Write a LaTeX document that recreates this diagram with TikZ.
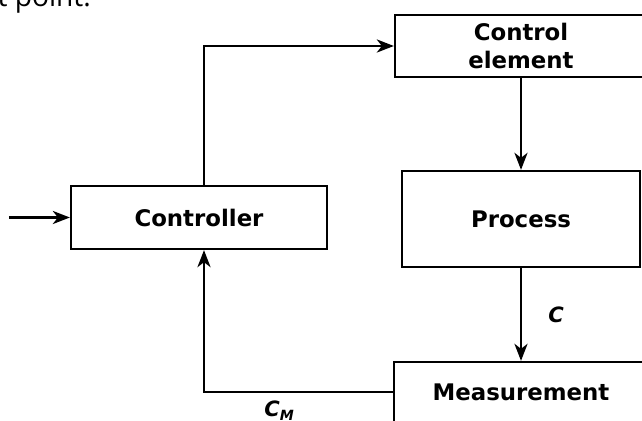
\documentclass[tikz,border=0pt]{standalone}
\usepackage{fontspec}
\setmainfont{DejaVu Sans}
\newfontfamily\notefont{Open Sans}
\usetikzlibrary{arrows.meta}

\begin{document}
\begin{tikzpicture}[x=0.02cm,y=-0.02cm,
	block/.style={draw,line width=1.3pt,inner sep=0pt,align=center,
		font=\bfseries\fontsize{13}{16}\selectfont},
	flow/.style={line width=1.6pt,-{Stealth[length=0.34cm,width=0.26cm,inset=0.1cm]}},
	sig/.style={font=\bfseries\itshape\fontsize{12}{14}\selectfont}]
	\useasboundingbox (0,0) rectangle (642,421);
	\clip (0,0) rectangle (642,421);

	\node[anchor=base east,font=\notefont\fontsize{16}{18}\selectfont] (note) at (97,7) {set point.};

	\node[block,minimum width=5.12cm,minimum height=1.26cm] (ctrl) at (199,217.5) {Controller};
	\node[block,minimum width=5.04cm,minimum height=1.24cm] (elem) at (521,46) {Control\\element};
	\node[block,minimum width=4.76cm,minimum height=1.92cm] (proc) at (521,219) {Process};
	\node[block,minimum width=5.08cm,minimum height=1.2cm] (meas) at (521,392) {Measurement};

	\coordinate (in) at ([xshift=-1.22cm]ctrl.west);

	\draw[flow] (in) -- (ctrl.west);
	\draw[flow] ([xshift=0.1cm]ctrl.north) |- (elem.west);
	\draw[flow] (elem.south) -- (proc.north);
	\draw[flow] (proc.south) -- node[sig,right=0.4cm] (c) {C} (meas.north);
	\draw[flow] (meas.west) -| node[sig,pos=0.3,below=0.04cm] (cm) {C\textsubscript{M}} ([xshift=0.1cm]ctrl.south);
\end{tikzpicture}
\end{document}
